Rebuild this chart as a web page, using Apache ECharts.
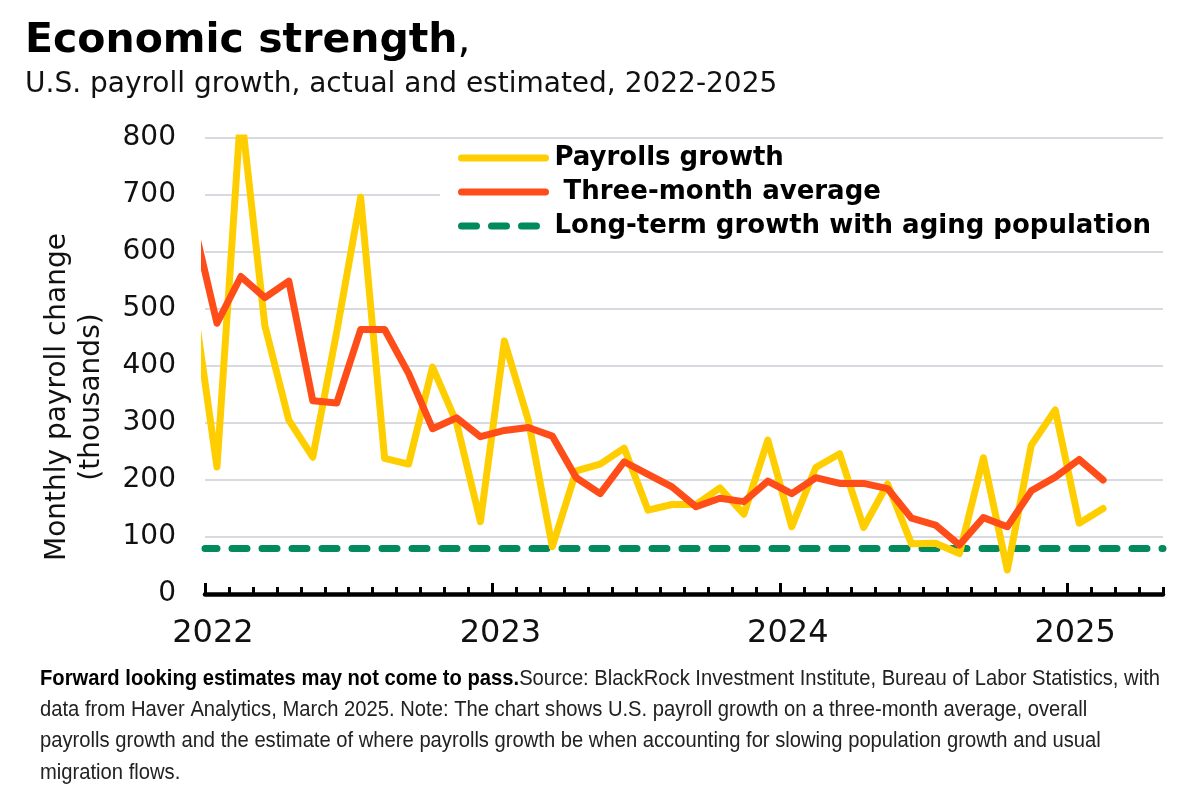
<!DOCTYPE html>
<html><head><meta charset="utf-8">
<script src="https://cdn.jsdelivr.net/npm/echarts@6/dist/echarts.min.js"></script>
<style>html,body{margin:0;padding:0;background:#fff}#c{width:1201px;height:803px}</style>
</head><body><div id="c"></div>
<script>
// ---- data ----
const axisMonths = [
  '2022-01','2022-02','2022-03','2022-04','2022-05','2022-06','2022-07','2022-08','2022-09','2022-10','2022-11','2022-12',
  '2023-01','2023-02','2023-03','2023-04','2023-05','2023-06','2023-07','2023-08','2023-09','2023-10','2023-11','2023-12',
  '2024-01','2024-02','2024-03','2024-04','2024-05','2024-06','2024-07','2024-08','2024-09','2024-10','2024-11','2024-12',
  '2025-01','2025-02','2025-03','2025-04'
];
const yearLabels = ['2022','2023','2024','2025'];
const dataMonths = [
  '2021-12',
  '2022-01','2022-02','2022-03','2022-04','2022-05','2022-06','2022-07','2022-08','2022-09','2022-10','2022-11','2022-12',
  '2023-01','2023-02','2023-03','2023-04','2023-05','2023-06','2023-07','2023-08','2023-09','2023-10','2023-11','2023-12',
  '2024-01','2024-02','2024-03','2024-04','2024-05','2024-06','2024-07','2024-08','2024-09','2024-10','2024-11','2024-12',
  '2025-01','2025-02'
];
const payrolls = [
  520,
  223, 850, 471, 305, 240, 460, 696, 238, 228, 398, 301, 127,
  444, 305, 83, 216, 228, 256, 147, 157, 157, 186, 140, 270,
  118, 222, 246, 117, 193, 88, 89, 71, 239, 42, 261, 323,
  124, 150
];
const threeMonthAvg = [
  655,
  475, 557, 520, 549, 339, 335, 464, 464, 387, 290, 309, 276,
  287, 292, 277, 204, 176, 232, 210, 188, 153, 168, 162, 198,
  176, 204, 194, 194, 185, 133, 121, 86, 134, 118, 181, 205,
  236, 200
];
const agingLevel = 80;
const yMin = 0, yMax = 800, yStep = 100;

const seriesNames = ['Payrolls growth', ' Three-month average', 'Long-term growth with aging population'];
const colors = ['#FFCE00', '#FF4D1A', '#008A5E'];

const footBold = 'Forward looking estimates may not come to pass.';
const footLines = [
  'Source: BlackRock Investment Institute, Bureau of Labor Statistics, with',
  'data from Haver Analytics, March 2025. Note: The chart shows U.S. payroll growth on a three-month average, overall',
  'payrolls growth and the estimate of where payrolls growth be when accounting for slowing population growth and usual',
  'migration flows.'
];

// month string -> position on the monthly value axis (month start = integer)
function monthStart(m) {
  const y = +m.slice(0, 4), mo = +m.slice(5, 7);
  const y0 = +axisMonths[0].slice(0, 4);
  return (y - y0) * 12 + (mo - 1);
}
const yellowData = dataMonths.map((m, i) => [monthStart(m) + 0.5, payrolls[i]]);
const orangeData = dataMonths.map((m, i) => [monthStart(m) + 0.5, threeMonthAvg[i]]);
const greenData = [[0, agingLevel], [axisMonths.length, agingLevel]];
const yearTickValues = yearLabels.map(y => monthStart(y + '-01'));

// footer: fit first line to the reference width by horizontal scaling
const FOOT_FONT = 'Liberation Sans';
const FOOT_SIZE = 22;
const mctx = document.createElement('canvas').getContext('2d');
mctx.font = 'bold ' + FOOT_SIZE + 'px "' + FOOT_FONT + '"';
const wBold = mctx.measureText(footBold).width;
mctx.font = FOOT_SIZE + 'px "' + FOOT_FONT + '"';
const wReg = mctx.measureText(footLines[0]).width;
const footScale = 1120 / (wBold + wReg);

const chart = echarts.init(document.getElementById('c'), null, {renderer: 'canvas'});
const FONT = 'DejaVu Sans';
const option = {
  backgroundColor: '#fff',
  animation: false,
  grid: {left: 205, right: 38, top: 138, bottom: 209, containLabel: false},
  legend: {
    data: [
      {name: seriesNames[0], lineStyle: {color: colors[0], width: 7, cap: 'round', type: 'solid'}},
      {name: seriesNames[1], lineStyle: {color: colors[1], width: 7, cap: 'round', type: 'solid'}},
      {name: seriesNames[2], lineStyle: {color: colors[2], width: 7, cap: 'round', type: [15, 15], dashOffset: 0}}
    ],
    orient: 'vertical',
    left: 440, top: 141,
    backgroundColor: '#fff',
    padding: [4, 16, 8, 18],
    itemWidth: 84, itemHeight: 22, itemGap: 8,
    itemStyle: {opacity: 0},
    textStyle: {fontFamily: FONT, fontWeight: 'bold', fontSize: 26, color: '#000', lineHeight: 26, padding: [0, 0, 0, 4]},
    selectedMode: false
  },
  xAxis: [
    {
      type: 'value', min: 0, max: axisMonths.length, position: 'bottom', offset: 0,
      axisLine: {show: false},
      axisTick: {show: true, customValues: yearTickValues, inside: true, length: 11, lineStyle: {color: '#000', width: 3}},
      axisLabel: {show: false}, splitLine: {show: false}
    },
    {
      type: 'category', data: axisMonths, boundaryGap: true, position: 'bottom', offset: 0,
      axisLine: {show: true, lineStyle: {color: '#000', width: 4.5}},
      axisTick: {show: true, interval: 0, inside: true, length: 7, lineStyle: {color: '#000', width: 3}},
      axisLabel: {
        interval: 11, fontFamily: FONT, fontSize: 32, color: '#111', margin: 24, padding: [0, 8, 0, 0],
        formatter: function (v) { const yr = v.slice(0, 4); return yearLabels.indexOf(yr) >= 0 && v.slice(5) === '01' ? yr : ''; }
      },
      splitLine: {show: false}
    }
  ],
  yAxis: {
    type: 'value', min: yMin, max: yMax, interval: yStep,
    axisLine: {show: false}, axisTick: {show: false},
    axisLabel: {fontFamily: FONT, fontSize: 28, color: '#111', margin: 29},
    splitLine: {lineStyle: {color: '#D9D9E0', width: 2}}
  },
  series: [
    {
      name: seriesNames[2], type: 'line', xAxisIndex: 0, data: greenData, symbol: 'none', silent: true, z: 2,
      lineStyle: {color: colors[2], width: 7, type: [15, 15], dashOffset: 3, cap: 'round'},
      itemStyle: {color: colors[2]}
    },
    {
      name: seriesNames[0], type: 'line', xAxisIndex: 0, data: yellowData, symbol: 'none', silent: true, z: 3, clip: true,
      lineStyle: {color: colors[0], width: 7, cap: 'round', join: 'round'},
      itemStyle: {color: colors[0]}
    },
    {
      name: seriesNames[1], type: 'line', xAxisIndex: 0, data: orangeData, symbol: 'none', silent: true, z: 4, clip: true,
      lineStyle: {color: colors[1], width: 7, cap: 'round', join: 'round'},
      itemStyle: {color: colors[1]}
    }
  ],
  graphic: [
    {type: 'text', x: 25, y: 41, style: {
      text: '{b|Economic strength}{n|,}', verticalAlign: 'middle', align: 'left',
      rich: {b: {fontFamily: FONT, fontWeight: 'bold', fontSize: 41, fill: '#000'}, n: {fontFamily: FONT, fontWeight: 'normal', fontSize: 41, fill: '#000'}}
    }},
    {type: 'text', x: 25, y: 85, style: {
      text: 'U.S. payroll growth, actual and estimated, 2022-2025', fontFamily: FONT, fontSize: 28, fill: '#111', verticalAlign: 'middle'
    }},
    {type: 'text', x: 75, y: 397, rotation: Math.PI / 2, style: {
      text: 'Monthly payroll change\n(thousands)', fontFamily: FONT, fontSize: 28, lineHeight: 34, fill: '#111', align: 'center', verticalAlign: 'middle'
    }},
    {type: 'text', x: 40, y: 663, scaleX: footScale, style: {
      text: '{b|' + footBold + '}{r|' + footLines[0] + '}\n' + footLines.slice(1).map(t => '{r|' + t + '}').join('\n'),
      verticalAlign: 'top',
      rich: {
        b: {fontFamily: FOOT_FONT, fontWeight: 'bold', fontSize: FOOT_SIZE, lineHeight: 31.3, fill: '#000'},
        r: {fontFamily: FOOT_FONT, fontSize: FOOT_SIZE, lineHeight: 31.3, fill: '#222'}
      }
    }}
  ]
};
chart.setOption(option);
</script></body></html>
